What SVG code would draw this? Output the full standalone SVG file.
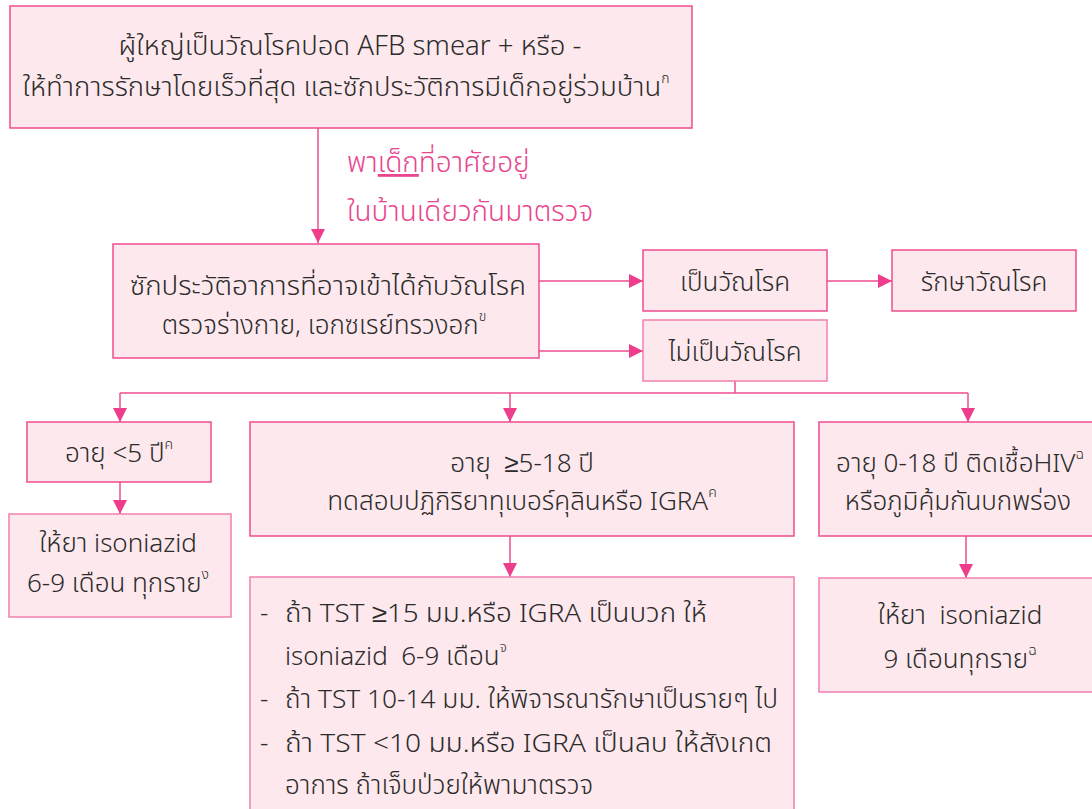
<svg xmlns="http://www.w3.org/2000/svg" width="1092" height="809" viewBox="0 0 1092 809">
<defs>
<style>
.box{fill:#fde8ed;stroke:#ee4d8f;stroke-width:1.5}
.box2{fill:#fde8ed;stroke:#f27fb0;stroke-width:1.5}
.t{font-family:"Noto Sans Thai","Noto Sans Thai Looped","Loma","Garuda","Tlwg Typo","DejaVu Sans","Noto Sans",sans-serif;font-size:26px;fill:#2b2b2b;font-weight:300}
.big{font-size:27.5px}
.c{text-anchor:middle}
.lbl{font-family:"Noto Sans Thai","Loma","Garuda","DejaVu Sans","Noto Sans",sans-serif;font-size:28px;fill:#e8468e;font-weight:300}
.sup{font-size:14px}
.ln{stroke:#ee4d8f;stroke-width:1.5;fill:none}
</style>
<marker id="ah" viewBox="0 0 10 10" refX="10" refY="5" markerWidth="14" markerHeight="14" markerUnits="userSpaceOnUse" orient="auto">
<path d="M0,0 L10,5 L0,10 z" fill="#ee3d8a"/>
</marker>
</defs>
<rect width="1092" height="809" fill="#ffffff"/>
<g id="connectors">
<line class="ln" x1="318" y1="128" x2="318" y2="243" marker-end="url(#ah)"/>
<line class="ln" x1="539" y1="281" x2="643" y2="281" marker-end="url(#ah)"/>
<line class="ln" x1="827" y1="281" x2="892" y2="281" marker-end="url(#ah)"/>
<line class="ln" x1="539" y1="351" x2="643" y2="351" marker-end="url(#ah)"/>
<line class="ln" x1="735" y1="381" x2="735" y2="393"/>
<line class="ln" x1="120" y1="393" x2="968" y2="393"/>
<line class="ln" x1="120" y1="393" x2="120" y2="422" marker-end="url(#ah)"/>
<line class="ln" x1="510" y1="393" x2="510" y2="422" marker-end="url(#ah)"/>
<line class="ln" x1="968" y1="393" x2="968" y2="422" marker-end="url(#ah)"/>
<line class="ln" x1="120" y1="482" x2="120" y2="514" marker-end="url(#ah)"/>
<line class="ln" x1="510" y1="536" x2="510" y2="577" marker-end="url(#ah)"/>
<line class="ln" x1="966" y1="536" x2="966" y2="578" marker-end="url(#ah)"/>
</g>
<g id="edge-label">
<text class="lbl" x="347" y="172">พา<tspan text-decoration="underline">เด็ก</tspan>ที่อาศัยอยู่</text>
<text class="lbl" x="347" y="221">ในบ้านเดียวกันมาตรวจ</text>
</g>
<g id="n-adult">
<rect class="box" x="10" y="6" width="682" height="122"/>
<text class="t c big" x="350" y="55">ผู้ใหญ่เป็นวัณโรคปอด AFB smear + หรือ -</text>
<text class="t c big" x="346" y="96">ให้ทำการรักษาโดยเร็วที่สุด และซักประวัติการมีเด็กอยู่ร่วมบ้าน<tspan class="sup" dy="-13">ก</tspan></text>
</g>
<g id="n-history">
<rect class="box" x="113" y="244" width="426" height="114"/>
<text class="t c" x="328" y="295" textLength="396" lengthAdjust="spacingAndGlyphs">ซักประวัติอาการที่อาจเข้าได้กับวัณโรค</text>
<text class="t c" x="324" y="334">ตรวจร่างกาย, เอกซเรย์ทรวงอก<tspan class="sup" dy="-13">ข</tspan></text>
</g>
<g id="n-tb">
<rect class="box" x="643" y="250" width="184" height="61"/>
<text class="t c" x="735" y="291">เป็นวัณโรค</text>
</g>
<g id="n-treat">
<rect class="box" x="892" y="250" width="184" height="61"/>
<text class="t c" x="984" y="291">รักษาวัณโรค</text>
</g>
<g id="n-notb">
<rect class="box2" x="643" y="320" width="184" height="61"/>
<text class="t c" x="735" y="361">ไม่เป็นวัณโรค</text>
</g>
<g id="n-under5">
<rect class="box" x="27" y="422" width="184" height="60"/>
<text class="t c" x="119" y="462">อายุ &lt;5 ปี<tspan class="sup" dy="-13">ค</tspan></text>
</g>
<g id="n-inh69">
<rect class="box2" x="9" y="514" width="222" height="103"/>
<text class="t c" x="118" y="552">ให้ยา isoniazid</text>
<text class="t c" x="118" y="592">6-9 เดือน ทุกราย<tspan class="sup" dy="-13">ง</tspan></text>
</g>
<g id="n-5to18">
<rect class="box" x="250" y="422" width="544" height="114"/>
<text class="t c" x="522" y="472">อายุ &#160;≥5-18 ปี</text>
<text class="t c" x="522" y="510">ทดสอบปฏิกิริยาทุเบอร์คุลินหรือ IGRA<tspan class="sup" dy="-13">ค</tspan></text>
</g>
<g id="n-tst">
<rect class="box2" x="250" y="577" width="544" height="240"/>
<text class="t" x="260" y="622">-</text>
<text class="t" x="285" y="622" textLength="422" lengthAdjust="spacingAndGlyphs">ถ้า TST ≥15 มม.หรือ IGRA เป็นบวก ให้</text>
<text class="t" x="285" y="665">isoniazid &#160;6-9 เดือน<tspan class="sup" dy="-13">จ</tspan></text>
<text class="t" x="260" y="708">-</text>
<text class="t" x="285" y="708" textLength="493" lengthAdjust="spacingAndGlyphs">ถ้า TST 10-14 มม. ให้พิจารณารักษาเป็นรายๆ ไป</text>
<text class="t" x="260" y="752">-</text>
<text class="t" x="285" y="752" textLength="487" lengthAdjust="spacingAndGlyphs">ถ้า TST &lt;10 มม.หรือ IGRA เป็นลบ ให้สังเกต</text>
<text class="t" x="285" y="794">อาการ ถ้าเจ็บป่วยให้พามาตรวจ</text>
</g>
<g id="n-hiv">
<rect class="box" x="819" y="422" width="290" height="114"/>
<text class="t c" x="960" y="472">อายุ 0-18 ปี ติดเชื้อHIV<tspan class="sup" dy="-13">ฉ</tspan></text>
<text class="t c" x="958" y="510">หรือภูมิคุ้มกันบกพร่อง</text>
</g>
<g id="n-inh9">
<rect class="box2" x="819" y="578" width="290" height="114"/>
<text class="t c" x="960" y="624">ให้ยา &#160;isoniazid</text>
<text class="t c" x="960" y="668">9 เดือนทุกราย<tspan class="sup" dy="-13">ฉ</tspan></text>
</g>
</svg>
